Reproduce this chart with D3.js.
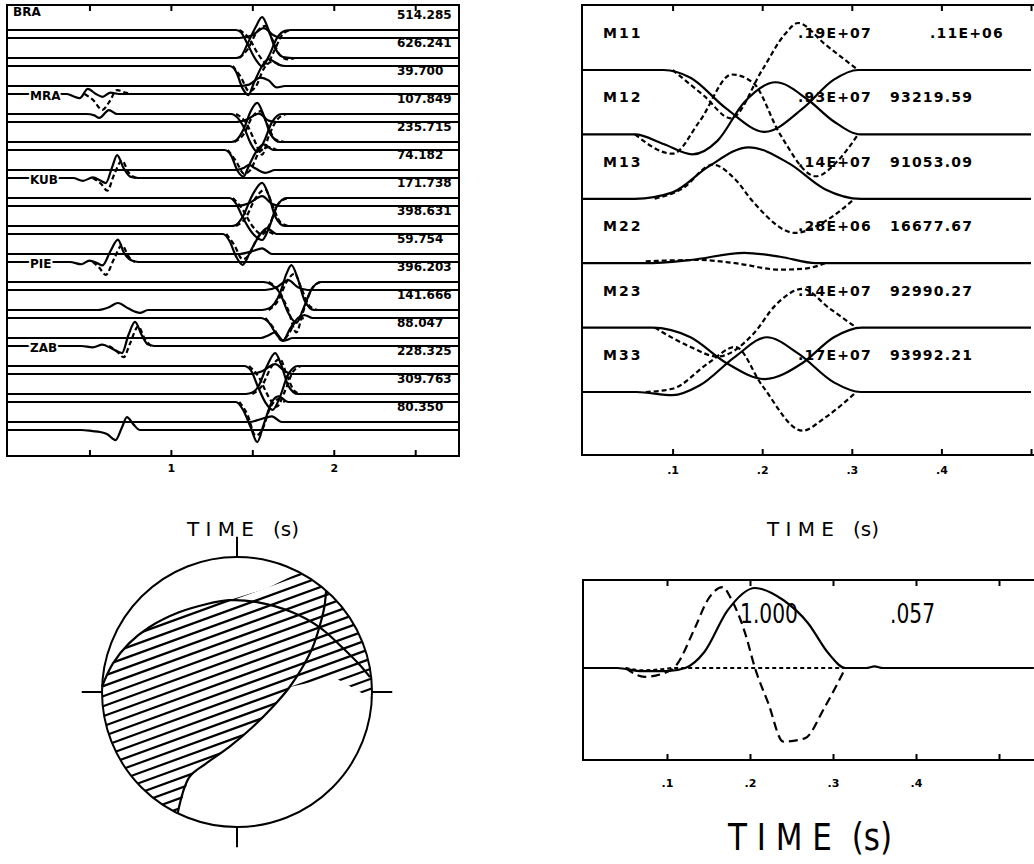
<!DOCTYPE html>
<html lang="en">
<head>
<meta charset="UTF-8">
<title>Moment tensor inversion</title>
<script src="https://d3js.org/d3.v7.min.js"></script>
<style>
  body { margin: 0; background: #ffffff; }
  svg { display: block; background: #ffffff; }
  .frame { fill: none; stroke: #000; stroke-width: 2; }
  .trace { fill: none; stroke: #000; stroke-width: 2.2; stroke-linejoin: round; }
  .dash { stroke-dasharray: 5 3; }
  .lbl { font-family: "DejaVu Sans", Arial, sans-serif; font-weight: bold; fill: #000; }
  .axis line { stroke: #000; stroke-width: 2; }
  .axis path { display: none; }
  .axis text { font-family: "DejaVu Sans", Arial, sans-serif; font-weight: bold; font-size: 11px; fill: #000; }
  .title { font-family: "DejaVu Sans", Arial, sans-serif; font-size: 20px; white-space: pre; fill: #000; }
  .narrow { font-family: "Liberation Sans Narrow", "DejaVu Sans Condensed", Arial, sans-serif; fill: #000; white-space: pre; }
</style>
</head>
<body>
<svg id="fig" width="1034" height="864"></svg>
<script>
// ---------------- data ----------------
const stations = ['BRA', 'MRA', 'KUB', 'PIE', 'ZAB'];
const traceAmps = ['514.285', '626.241', '39.700', '107.849', '235.715', '74.182', '171.738', '398.631',
                   '59.754', '396.203', '141.666', '88.047', '228.325', '309.763', '80.350'];
const leftTicks = [0.5, 1, 1.5, 2, 2.5];
const leftTickLabels = ['', '1', '', '2', ''];

// [row, line ('A' upper / 'B' lower), points [time s, amplitude in row heights, up +]]
const solidWaves = [
  [1, 'A', [[1.40,0],[1.43,0.06],[1.47,0.5],[1.52,1.1],[1.56,1.46],[1.60,1.0],[1.64,0.35],[1.70,0.02],[1.75,0]]],
  [0, 'A', [[1.40,0],[1.43,-0.08],[1.47,-0.5],[1.52,-1.05],[1.56,-1.3],[1.60,-0.95],[1.65,-0.3],[1.70,-0.03],[1.74,0]]],
  [1, 'B', [[1.36,0],[1.40,-0.2],[1.44,-0.8],[1.475,-1.04],[1.51,-0.6],[1.56,0],[1.60,0.25],[1.66,0.05],[1.70,0]]],
  [0, 'B', [[1.42,0],[1.50,0.1],[1.57,0.35],[1.63,0.1],[1.68,0]]],
  [2, 'A', [[1.42,0],[1.48,0.05],[1.55,0.3],[1.60,0.2],[1.65,-0.05],[1.70,0]]],
  [2, 'B', [[0.36,0],[0.40,-0.08],[0.44,-0.15],[0.49,0.18],[0.54,0.0],[0.58,-0.1],[0.63,0.05],[0.68,0]]],
  [3, 'A', [[0.48,0],[0.53,-0.05],[0.56,-0.14],[0.62,0.14],[0.67,0],[0.72,0]]],
  [4, 'A', [[1.37,0],[1.40,0.06],[1.45,0.5],[1.49,1.1],[1.53,1.4],[1.57,0.95],[1.61,0.3],[1.67,0]]],
  [3, 'A', [[1.37,0],[1.40,-0.08],[1.45,-0.5],[1.49,-1.05],[1.53,-1.35],[1.57,-1.0],[1.62,-0.3],[1.68,0]]],
  [4, 'B', [[1.33,0],[1.37,-0.2],[1.41,-0.75],[1.445,-0.95],[1.48,-0.55],[1.53,0],[1.57,0.2],[1.63,0]]],
  [3, 'B', [[1.40,0],[1.47,0.1],[1.54,0.3],[1.60,0.05],[1.65,0]]],
  [5, 'A', [[1.40,0],[1.45,0.08],[1.48,0.18],[1.52,0.05],[1.58,-0.1],[1.64,0]]],
  [5, 'B', [[0.40,0],[0.46,-0.1],[0.52,0.02],[0.57,-0.1],[0.60,-0.18],[0.64,0.4],[0.67,0.82],[0.71,0.35],[0.75,0.05],[0.80,0]]],
  [7, 'A', [[1.37,0],[1.40,0.04],[1.44,0.32],[1.50,1.1],[1.56,1.54],[1.60,1.1],[1.64,0.35],[1.70,0]]],
  [6, 'A', [[1.36,0],[1.40,-0.2],[1.44,-0.68],[1.50,-1.25],[1.56,-1.5],[1.60,-1.1],[1.65,-0.3],[1.71,0]]],
  [7, 'B', [[1.32,0],[1.36,-0.25],[1.40,-0.8],[1.44,-1.1],[1.49,-0.6],[1.55,0],[1.59,0.2],[1.65,0]]],
  [6, 'B', [[1.40,0],[1.48,0.1],[1.56,0.35],[1.62,0.08],[1.67,0]]],
  [8, 'A', [[1.42,0],[1.50,0.1],[1.56,0.2],[1.62,0],[1.67,0]]],
  [8, 'B', [[0.38,0],[0.45,-0.08],[0.50,0.05],[0.55,-0.05],[0.58,-0.12],[0.63,0.4],[0.675,0.8],[0.71,0.35],[0.76,0.05],[0.80,0]]],
  [10, 'A', [[0.55,0],[0.62,0.1],[0.675,0.25],[0.74,0.05],[0.81,-0.1],[0.86,0]]],
  [10, 'A', [[1.56,0],[1.60,0.05],[1.67,0.6],[1.71,1.3],[1.74,1.6],[1.78,1.1],[1.82,0.35],[1.88,0]]],
  [9, 'A', [[1.57,0],[1.62,-0.1],[1.67,-0.4],[1.72,-1.1],[1.77,-1.46],[1.81,-1.0],[1.86,-0.3],[1.92,0]]],
  [10, 'B', [[1.55,0],[1.60,-0.15],[1.65,-0.6],[1.69,-0.8],[1.73,-0.4],[1.78,0],[1.82,0.1],[1.87,0]]],
  [9, 'B', [[1.58,0],[1.65,0.1],[1.72,0.35],[1.78,0.1],[1.84,0]]],
  [11, 'A', [[1.55,0],[1.60,0.1],[1.64,0.2],[1.69,-0.1],[1.75,0]]],
  [11, 'B', [[0.45,0],[0.52,-0.05],[0.58,0.05],[0.64,-0.1],[0.70,-0.25],[0.74,0.4],[0.78,0.86],[0.82,0.4],[0.86,0.05],[0.90,0]]],
  [14, 'B', [[0.45,0],[0.52,-0.04],[0.565,-0.07],[0.61,-0.15],[0.66,-0.36],[0.70,0.1],[0.73,0.46],[0.77,0.2],[0.81,0]]],
  [13, 'A', [[1.46,0],[1.50,0.05],[1.535,0.25],[1.59,1.0],[1.64,1.46],[1.68,1.0],[1.72,0.3],[1.78,0]]],
  [12, 'A', [[1.45,0],[1.49,-0.15],[1.535,-0.75],[1.58,-1.3],[1.625,-1.57],[1.67,-1.1],[1.72,-0.3],[1.78,0]]],
  [13, 'B', [[1.40,0],[1.44,-0.25],[1.49,-0.9],[1.53,-1.43],[1.57,-0.8],[1.62,0],[1.66,0.2],[1.72,0]]],
  [12, 'B', [[1.48,0],[1.56,0.1],[1.64,0.35],[1.70,0.1],[1.75,0]]],
  [14, 'A', [[1.48,0],[1.55,0.1],[1.62,0.2],[1.68,0],[1.72,0]]]
];

const dashedWaves = [
  [1, 'A', [[1.42,0],[1.47,0.3],[1.53,0.95],[1.58,1.15],[1.62,0.7],[1.67,0.1],[1.72,-0.05],[1.76,0]]],
  [0, 'A', [[1.42,0],[1.48,-0.3],[1.54,-0.9],[1.59,-1.2],[1.63,-0.8],[1.68,-0.2],[1.73,0]]],
  [1, 'B', [[1.38,0],[1.43,-0.4],[1.48,-0.9],[1.52,-0.75],[1.57,-0.1],[1.62,0.15],[1.68,0]]],
  [2, 'B', [[0.47,0],[0.52,-0.2],[0.58,-0.57],[0.62,-0.3],[0.67,0.14],[0.72,0.05],[0.76,0]]],
  [4, 'A', [[1.39,0],[1.45,0.3],[1.50,0.9],[1.55,1.1],[1.59,0.65],[1.64,0.1],[1.70,0]]],
  [3, 'A', [[1.40,0],[1.46,-0.3],[1.51,-0.9],[1.56,-1.45],[1.60,-0.8],[1.66,-0.15],[1.71,0]]],
  [4, 'B', [[1.35,0],[1.40,-0.4],[1.45,-0.85],[1.49,-0.7],[1.54,-0.1],[1.60,0.1],[1.65,0]]],
  [5, 'B', [[0.52,0],[0.57,-0.2],[0.61,-0.45],[0.65,0.1],[0.70,0.62],[0.74,0.2],[0.79,0]]],
  [7, 'A', [[1.40,0],[1.46,0.3],[1.52,1.0],[1.58,1.3],[1.62,0.8],[1.67,0.15],[1.72,0]]],
  [6, 'A', [[1.38,0],[1.44,-0.4],[1.50,-1.0],[1.56,-1.3],[1.61,-0.9],[1.66,-0.2],[1.72,0]]],
  [7, 'B', [[1.34,0],[1.39,-0.4],[1.44,-0.9],[1.48,-0.75],[1.53,-0.15],[1.58,0.1],[1.63,0]]],
  [8, 'B', [[0.52,0],[0.56,-0.2],[0.60,-0.46],[0.65,0.1],[0.70,0.6],[0.74,0.2],[0.78,0]]],
  [10, 'A', [[1.60,0],[1.66,0.35],[1.71,1.0],[1.76,1.3],[1.80,0.8],[1.85,0.15],[1.90,0]]],
  [9, 'A', [[1.60,0],[1.66,-0.3],[1.72,-1.0],[1.77,-1.8],[1.81,-1.1],[1.87,-0.2],[1.92,0]]],
  [10, 'B', [[1.58,0],[1.63,-0.35],[1.68,-0.8],[1.72,-0.6],[1.77,-0.1],[1.82,0]]],
  [11, 'B', [[0.62,0],[0.67,-0.2],[0.71,-0.4],[0.75,0.1],[0.80,0.7],[0.84,0.25],[0.88,0]]],
  [13, 'A', [[1.50,0],[1.56,0.3],[1.62,1.0],[1.67,1.25],[1.71,0.7],[1.76,0.1],[1.80,0]]],
  [12, 'A', [[1.48,0],[1.54,-0.4],[1.60,-1.1],[1.65,-1.45],[1.70,-0.9],[1.75,-0.2],[1.80,0]]],
  [13, 'B', [[1.42,0],[1.47,-0.45],[1.52,-1.2],[1.56,-1.0],[1.61,-0.2],[1.66,0.1],[1.70,0]]]
];

// moment tensor components (top right)
const mNames = ['M11', 'M12', 'M13', 'M22', 'M23', 'M33'];
const mMax = ['.19E+07', '.93E+07', '.14E+07', '.28E+06', '.14E+07', '.17E+07'];
const mErr = ['.11E+06', '93219.59', '91053.09', '16677.67', '92990.27', '93992.21'];
const mTicks = [0.1, 0.2, 0.3, 0.4, 0.5];
const mTickLabels = ['.1', '.2', '.3', '.4', ''];
const mSolid = [
  [[0,0],[0.09,0],[0.12,-0.12],[0.16,-0.6],[0.203,-0.96],[0.245,-0.6],[0.28,-0.15],[0.307,0],[0.5,0]],
  [[0,0],[0.058,0],[0.09,-0.15],[0.122,-0.31],[0.15,-0.1],[0.18,0.5],[0.215,0.81],[0.25,0.55],[0.28,0.2],[0.31,0],[0.5,0]],
  [[0,0],[0.058,0],[0.1,0.1],[0.14,0.5],[0.185,0.8],[0.23,0.55],[0.27,0.15],[0.31,0],[0.5,0]],
  [[0,0],[0.07,0],[0.12,0.05],[0.18,0.16],[0.22,0.1],[0.26,0],[0.5,0]],
  [[0,0],[0.077,0],[0.12,-0.15],[0.16,-0.55],[0.203,-0.8],[0.245,-0.55],[0.28,-0.15],[0.311,0],[0.5,0]],
  [[0,0],[0.06,0],[0.1,-0.05],[0.13,0.1],[0.17,0.55],[0.205,0.85],[0.24,0.6],[0.28,0.15],[0.31,0],[0.5,0]]
];
const mDashed = [
  [[0.1,0],[0.135,-0.4],[0.165,-0.75],[0.2,0],[0.225,0.55],[0.24,0.73],[0.27,0.4],[0.307,0]],
  [[0.058,0],[0.1,-0.3],[0.13,0.2],[0.166,0.93],[0.19,0.8],[0.22,0],[0.26,-0.65],[0.285,-0.4],[0.307,0]],
  [[0.08,0],[0.11,0.15],[0.145,0.53],[0.17,0.3],[0.19,-0.05],[0.237,-0.53],[0.27,-0.35],[0.303,0]],
  [[0.07,0.03],[0.13,0.05],[0.17,0],[0.22,-0.1],[0.25,-0.08],[0.27,0]],
  [[0.08,0],[0.12,-0.3],[0.15,-0.45],[0.19,-0.1],[0.215,0.35],[0.245,0.6],[0.275,0.3],[0.305,0]],
  [[0.07,0],[0.1,0.05],[0.14,0.45],[0.17,0.7],[0.2,0.1],[0.245,-0.6],[0.27,-0.4],[0.305,0]]
];

// source time function (bottom right)
const stfSolid = [[0,0],[0.04,0],[0.07,-0.04],[0.10,-0.04],[0.122,0],[0.145,0.2],[0.173,0.72],[0.206,1.0],
                  [0.24,0.85],[0.27,0.56],[0.294,0.19],[0.315,0],[0.34,0],[0.35,0.02],[0.36,0],[0.542,0]];
const stfDashed = [[0.05,0],[0.073,-0.11],[0.10,-0.05],[0.11,0.02],[0.134,0.51],[0.149,0.85],[0.167,1.01],[0.178,0.85],
                   [0.194,0.44],[0.206,0],[0.222,-0.44],[0.24,-0.92],[0.266,-0.88],[0.29,-0.49],[0.315,0]];
const stfZero = [[0.05,0],[0.07,-0.03],[0.09,-0.02],[0.11,0],[0.32,0]];
const stfTexts = ['1.000', '.057'];

// focal mechanism (unit circle coords, up +)
const nodal1 = [[-1.0,0.04],[-0.92,0.21],[-0.80,0.36],[-0.65,0.48],[-0.43,0.59],[-0.23,0.65],[-0.06,0.68],
                [0.14,0.667],[0.41,0.59],[0.61,0.48],[0.78,0.33],[0.91,0.2],[0.985,0.11]];
const nodal2 = [[0.66,0.75],[0.647,0.63],[0.61,0.48],[0.56,0.33],[0.486,0.185],[0.39,0.037],[0.264,-0.111],
                [0.116,-0.259],[-0.057,-0.407],[-0.23,-0.53],[-0.353,-0.63],[-0.44,-0.90]];
const bandTop = [[-0.06,0.68],[0.215,0.765],[0.46,0.886]];
const bandLow = [[0.998,-0.05],[0.72,0.11],[0.39,0.037]];

// ---------------- drawing ----------------
const svg = d3.select('#fig');

function ticks(scale, vals, labels, y, pad) {
  const bottom = d3.axisBottom(scale).tickValues(vals).tickSizeInner(-6).tickSizeOuter(0)
    .tickPadding(pad).tickFormat((d, i) => labels[i]);
  svg.append('g').attr('class', 'axis').attr('transform', `translate(0,${y.bottom})`).call(bottom);
  const top = d3.axisTop(scale).tickValues(vals).tickSizeInner(-6).tickSizeOuter(0).tickFormat('');
  svg.append('g').attr('class', 'axis').attr('transform', `translate(0,${y.top})`).call(top);
}

// ---- left: observed (solid) and synthetic (dashed) seismograms
const xL = d3.scaleLinear().domain([0, 2.775]).range([8, 460]);
const yL = d3.scaleLinear().domain([0, 1]).range([15, 43]);
const lineOff = { A: 15 / 28, B: 23 / 28 };
const lineL = d3.line().x(d => xL(d[0])).y(d => d[1]).curve(d3.curveMonotoneX);
const yOf = (r, b, a) => yL(r + lineOff[b] - a);

svg.append('g').selectAll('text').data(traceAmps).join('text')
  .attr('class', 'lbl').attr('font-size', 12)
  .attr('x', 397).attr('y', (d, i) => yL(i)).attr('dy', '0.36em').text(d => d);

const gL = svg.append('g');
d3.range(traceAmps.length).forEach(r => {
  ['A', 'B'].forEach(b => {
    const pts = solidWaves.filter(w => w[0] === r && w[1] === b).flatMap(w => w[2]).sort((p, q) => p[0] - q[0]);
    const full = [[0, 0], ...pts, [xL.domain()[1], 0]];
    gL.append('path').attr('class', 'trace').attr('d', lineL(full.map(p => [p[0], yOf(r, b, p[1])])));
  });
});
dashedWaves.forEach(w => {
  gL.append('path').attr('class', 'trace dash').attr('d', lineL(w[2].map(p => [p[0], yOf(w[0], w[1], p[1])])));
});

svg.append('g').selectAll('text').data(stations).join('text')
  .attr('class', 'lbl').attr('font-size', 12)
  .attr('x', (d, i) => i === 0 ? 13 : 30)
  .attr('y', (d, i) => i === 0 ? 12 : yOf(3 * i - 1, 'B', 0) + 2).attr('dy', '0.36em')
  .attr('stroke', '#fff').attr('stroke-width', 4).attr('paint-order', 'stroke')
  .text(d => d);

svg.append('rect').attr('class', 'frame').attr('x', 7).attr('y', 5).attr('width', 452).attr('height', 451);
ticks(xL, leftTicks, leftTickLabels, { top: 5, bottom: 456 }, 8);
svg.append('text').attr('class', 'title').attr('x', 243).attr('y', 536).attr('text-anchor', 'middle').text('T I M E   (s)');

// ---- right: moment tensor rate components
const xR = d3.scaleLinear().domain([0, 0.5]).range([583, 1031]);
const yR = d3.scaleLinear().domain([0, 1]).range([70, 134.4]);
const lineR = d3.line().x(d => xR(d[0])).y(d => d[1]).curve(d3.curveMonotoneX);

const gRt = svg.append('g');
mNames.forEach((m, j) => {
  const yb = yR(j) - 37;
  gRt.append('text').attr('class', 'lbl').attr('font-size', 14).attr('letter-spacing', 2)
    .attr('x', 603).attr('y', yb).attr('dy', '0.36em').text(m);
  gRt.append('text').attr('class', 'lbl').attr('font-size', 14).attr('letter-spacing', 1.2)
    .attr('x', 798).attr('y', yb).attr('dy', '0.36em').text(mMax[j]);
  gRt.append('text').attr('class', 'lbl').attr('font-size', 14).attr('letter-spacing', 1.2)
    .attr('x', mErr[j][0] === '.' ? 930 : 890).attr('y', yb).attr('dy', '0.36em').text(mErr[j]);
});
const gR = svg.append('g');
mSolid.forEach((pts, j) => gR.append('path').attr('class', 'trace')
  .attr('d', lineR(pts.map(p => [p[0], yR(j - p[1])]))));
mDashed.forEach((pts, j) => gR.append('path').attr('class', 'trace dash')
  .attr('d', lineR(pts.map(p => [p[0], yR(j - p[1])]))));
svg.append('rect').attr('class', 'frame').attr('x', 582).attr('y', 5).attr('width', 460).attr('height', 450);
ticks(xR, mTicks, mTickLabels, { top: 5, bottom: 455 }, 11);
svg.append('text').attr('class', 'title').attr('x', 823).attr('y', 536).attr('text-anchor', 'middle').text('T I M E   (s)');

// ---- bottom right: source time function
const xB = d3.scaleLinear().domain([0, 0.5]).range([584, 999]);
const yB = d3.scaleLinear().domain([-1, 1]).range([748, 588]);
const lineB = d3.line().x(d => xB(d[0])).y(d => yB(d[1])).curve(d3.curveMonotoneX);
svg.append('g').selectAll('text').data(stfTexts).join('text')
  .attr('class', 'narrow').attr('font-size', 27)
  .attr('x', (d, i) => i === 0 ? 740 : 890).attr('y', 613).attr('dy', '0.36em')
  .attr('textLength', (d, i) => i === 0 ? 58 : 45).attr('lengthAdjust', 'spacingAndGlyphs')
  .text(d => d);
svg.append('path').attr('class', 'trace').attr('stroke-width', 2.6).attr('d', lineB(stfSolid));
svg.append('path').attr('class', 'trace').attr('stroke-dasharray', '9 5').attr('d', lineB(stfDashed));
svg.append('path').attr('class', 'trace').attr('stroke-width', 1.6).attr('stroke-dasharray', '4 3').attr('d', lineB(stfZero));
svg.append('rect').attr('class', 'frame').attr('x', 583).attr('y', 580).attr('width', 460).attr('height', 180);
ticks(xB, mTicks, mTickLabels, { top: 580, bottom: 760 }, 19);
svg.append('text').attr('class', 'narrow').attr('font-size', 37)
  .attr('x', 728).attr('y', 850).attr('textLength', 164).attr('lengthAdjust', 'spacingAndGlyphs')
  .text('T I M E  (s)');

// ---- bottom left: focal mechanism
const bx = d3.scaleLinear().domain([-1, 1]).range([102, 372]);
const by = d3.scaleLinear().domain([-1, 1]).range([827, 557]);
const gB = svg.append('g');
const arc = (a0, a1) => d3.range(a0, a1, a1 > a0 ? 2 : -2).concat([a1])
  .map(a => [Math.cos(a * Math.PI / 180), Math.sin(a * Math.PI / 180)]);
const ang = p => Math.atan2(p[1], p[0]) * 180 / Math.PI;

const region = [
  ...nodal1.slice(0, 7),
  ...bandTop.slice(1),
  ...arc(ang(bandTop[2]), ang(bandLow[0])),
  ...bandLow,
  ...nodal2.slice(5),
  ...arc(ang(nodal2[nodal2.length - 1]), ang(nodal1[0]) - 360)
];
const toPx = pts => pts.map(p => [bx(p[0]), by(p[1])]);
gB.append('clipPath').attr('id', 'hatchClip')
  .append('path').attr('d', d3.line()(toPx(region)) + 'Z');

const tilt = 20 * Math.PI / 180;
const step = 9.4 / 135;
const hatch = gB.append('g').attr('clip-path', 'url(#hatchClip)');
d3.range(-1.5, 1.5, step).forEach(d => {
  const n = [-Math.sin(tilt) * d, Math.cos(tilt) * d];
  const p0 = [n[0] - 1.6 * Math.cos(tilt), n[1] - 1.6 * Math.sin(tilt)];
  const p1 = [n[0] + 1.6 * Math.cos(tilt), n[1] + 1.6 * Math.sin(tilt)];
  hatch.append('path').attr('class', 'trace').attr('stroke-width', 1.8).attr('d', d3.line()(toPx([p0, p1])));
});

gB.append('circle').attr('class', 'frame').attr('cx', bx(0)).attr('cy', by(0)).attr('r', bx(1) - bx(0));
const smooth = d3.line().curve(d3.curveCatmullRom.alpha(0.5));
gB.append('path').attr('class', 'trace').attr('d', smooth(toPx(nodal1)));
gB.append('path').attr('class', 'trace').attr('d', smooth(toPx(nodal2)));
[[0, 1, 0, 1.15], [0, -1, 0, -1.15], [-1, 0, -1.15, 0], [1, 0, 1.15, 0]].forEach(t => {
  gB.append('line').attr('stroke', '#000').attr('stroke-width', 2)
    .attr('x1', bx(t[0])).attr('y1', by(t[1])).attr('x2', bx(t[2])).attr('y2', by(t[3]));
});
</script>
</body>
</html>
